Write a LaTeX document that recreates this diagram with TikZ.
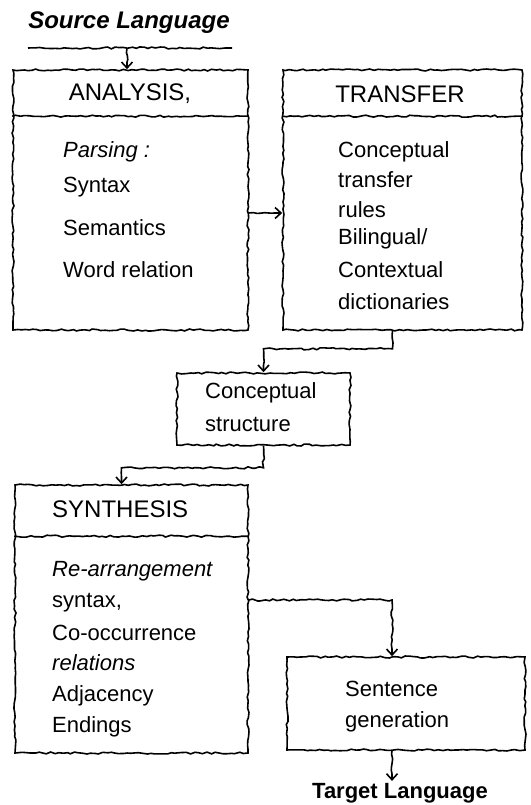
\documentclass[tikz,border=0pt]{standalone}
\usepackage{fontspec}
\setmainfont{Liberation Sans}
\usetikzlibrary{positioning,calc,decorations.pathmorphing,arrows.meta}

\tikzset{
  rough/.style={decorate, decoration={random steps, segment length=4pt, amplitude=1pt, post length=7pt}},
  stage/.style={draw, rough, line width=1.6pt, inner sep=0pt},
  head/.style={inner sep=0pt, font=\fontsize{24}{28}\selectfont},
  item/.style={anchor=west, inner sep=0pt, font=\fontsize{22}{26}\selectfont},
  flow/.style={rough, line width=1.6pt, -{Straight Barb[length=6pt,width=11pt,line width=1.6pt]}}
}

\begin{document}
\begin{tikzpicture}[x=1pt, y=-1pt]
    \useasboundingbox (0,0) rectangle (530,805);

    % input
    \node [inner sep=0pt, font=\fontsize{24}{28}\selectfont\bfseries\itshape] (src) at (129,23) {Source Language};
    \coordinate (srcl) at (28,48);
    \coordinate (srcr) at (232,48);
    \coordinate (srcm) at (127,48);
    \draw [rough, line width=1.6pt] (srcl) -- (srcr);

    % analysis
    \node [stage, minimum width=235pt, minimum height=260pt] (ana) at (130.5,200) {};
    \draw [rough, line width=1.6pt] ([yshift=-47pt]ana.north west) -- ([yshift=-47pt]ana.north east);
    \node [head] (anah) at (130,94) {ANALYSIS,};
    \node [item, font=\fontsize{22}{26}\selectfont\itshape] (ana1) at (63,152) {Parsing :};
    \node [item] (ana2) at (63,187) {Syntax};
    \node [item] (ana3) at (63,228) {Semantics};
    \node [item] (ana4) at (63,270) {Word relation};

    % transfer
    \node [stage, minimum width=239pt, minimum height=260pt] (tra) at (402.5,200) {};
    \draw [rough, line width=1.6pt] ([yshift=-47pt]tra.north west) -- ([yshift=-47pt]tra.north east);
    \node [head] (trah) at (400,94) {TRANSFER};
    \node [item] (tra1) at (338,152) {Conceptual};
    \node [item] (tra2) at (338,180) {transfer};
    \node [item] (tra3) at (338,210) {rules};
    \node [item] (tra4) at (338,239) {Bilingual/};
    \node [item] (tra5) at (338,270) {Contextual};
    \node [item] (tra6) at (338,302) {dictionaries};

    % conceptual structure
    \node [stage, minimum width=173pt, minimum height=72pt] (con) at (263.5,409) {};
    \node [item] (con1) at (205,393) {Conceptual};
    \node [item] (con2) at (205,424) {structure};

    % synthesis
    \node [stage, minimum width=233pt, minimum height=268pt] (syn) at (131.5,619) {};
    \draw [rough, line width=1.6pt] ([yshift=-52pt]syn.north west) -- ([yshift=-52pt]syn.north east);
    \node [head, anchor=west] (synh) at (52,509) {SYNTHESIS};
    \node [item, font=\fontsize{22}{26}\selectfont\itshape] (syn1) at (52,571) {Re-arrangement};
    \node [item] (syn2) at (52,603) {syntax,};
    \node [item] (syn3) at (52,633) {Co-occurrence};
    \node [item, font=\fontsize{22}{26}\selectfont\itshape] (syn4) at (52,663) {relations};
    \node [item] (syn5) at (52,696) {Adjacency};
    \node [item] (syn6) at (52,727) {Endings};

    % generation
    \node [stage, minimum width=238pt, minimum height=93pt] (gen) at (406,703.5) {};
    \node [item] (gen1) at (345,689) {Sentence};
    \node [item] (gen2) at (345,722) {generation};

    % output
    \node [inner sep=0pt, font=\fontsize{22}{26}\selectfont\bfseries] (tgt) at (400,793) {Target Language};

    % flow
    \draw [flow] (srcm) -- (srcm |- ana.north);
    \draw [flow] ([yshift=-13pt]ana.east) -- ([yshift=-13pt]ana.east -| tra.west);
    \draw [flow] ([xshift=-10pt]tra.south) -- ++(0,18) -| (con.north);
    \draw [flow] (con.south) -- ++(0,22) -| ([xshift=-10pt]syn.north);
    \draw [flow] ([yshift=19pt]syn.east) -| ([xshift=-14pt]gen.north);
    \draw [flow] ([xshift=-14pt]gen.south) -- ([xshift=-14pt,yshift=2pt]gen.south |- tgt.north);
\end{tikzpicture}
\end{document}
